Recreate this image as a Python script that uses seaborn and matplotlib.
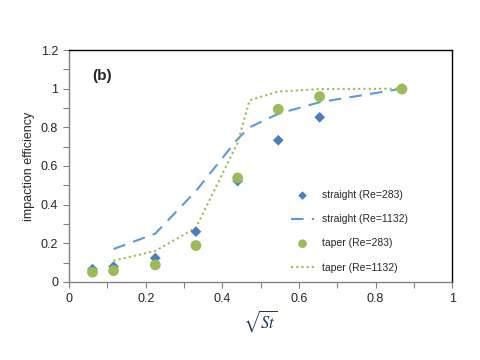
import numpy as np
import pandas as pd
import matplotlib
matplotlib.use("Agg")
import matplotlib.pyplot as plt
import seaborn as sns
from matplotlib.ticker import MultipleLocator

# data
sqrt_st = [0.061, 0.116, 0.225, 0.331, 0.44, 0.546, 0.654, 0.869]
straight_283 = [0.066, 0.079, 0.123, 0.26, 0.522, 0.733, 0.852, 1.0]
taper_283 = [0.05, 0.058, 0.088, 0.188, 0.538, 0.893, 0.959, 0.998]

line_x = [0.116, 0.225, 0.331, 0.44, 0.471, 0.546, 0.654, 0.869]
straight_1132 = [0.17, 0.25, 0.47, 0.74, 0.80, 0.87, 0.93, 1.0]
taper_1132 = [0.11, 0.16, 0.28, 0.72, 0.94, 0.985, 0.998, 1.0]

sns.set_style("white")
plt.rcParams['font.family'] = ['Liberation Sans', 'DejaVu Sans']
plt.rcParams['mathtext.fontset'] = 'stix'

fig = plt.figure(figsize=(4.8, 3.6), dpi=100)
ax = fig.add_axes([0.144, 0.217, 0.798, 0.644])

blue = "#4A7EBB"
lblue = "#5B9BD5"
green = "#9BBB59"

sns.lineplot(x=line_x, y=straight_1132, ax=ax, color=lblue, lw=1.5,
             label="straight (Re=1132)", zorder=2)
ax.lines[-1].set_dashes([6, 4])
sns.lineplot(x=line_x, y=taper_1132, ax=ax, color=green, lw=1.5,
             label="taper (Re=1132)", zorder=2)
ax.lines[-1].set_dashes([1, 1.5])
sns.scatterplot(x=sqrt_st, y=straight_283, ax=ax, marker="D", s=30,
                color=blue, edgecolor="none", label="straight (Re=283)", zorder=3)
sns.scatterplot(x=sqrt_st, y=taper_283, ax=ax, marker="o", s=60,
                color=green, edgecolor="none", label="taper (Re=283)", zorder=3)

ax.set_xlim(0, 1)
ax.set_ylim(0, 1.2)
ax.xaxis.set_major_locator(MultipleLocator(0.2))
ax.xaxis.set_minor_locator(MultipleLocator(0.1))
ax.yaxis.set_major_locator(MultipleLocator(0.2))
ax.yaxis.set_minor_locator(MultipleLocator(0.1))
ax.set_xticklabels([f"{v:g}" for v in ax.get_xticks()])
ax.set_yticklabels([f"{v:g}" for v in ax.get_yticks()])
ax.tick_params(axis="both", which="both", direction="out", length=4,
               width=0.8, color="#808080", labelsize=9, bottom=True, left=True)
ax.tick_params(axis="both", which="major", pad=4)
for s in ax.spines.values():
    s.set_color("black")
    s.set_linewidth(1.0)
ax.spines["left"].set_color("#808080")
ax.spines["bottom"].set_color("#808080")

ax.set_xlabel(r"$\sqrt{St}$", fontsize=12, labelpad=2, color="#1F3864")
ax.set_ylabel("impaction efficiency", fontsize=9, labelpad=4)
ax.text(0.06, 1.045, "(b)", fontsize=11, fontweight="bold", transform=ax.transData)

h, l = ax.get_legend_handles_labels()
order = ["straight (Re=283)", "straight (Re=1132)", "taper (Re=283)", "taper (Re=1132)"]
hh = [h[l.index(o)] for o in order]
ax.legend(hh, order, loc="lower right", bbox_to_anchor=(0.91, 0.0), frameon=False,
          fontsize=7.5, labelspacing=1.35, handlelength=2.2, handletextpad=0.8,
          markerscale=0.8)

fig.savefig("out.png", dpi=100)
